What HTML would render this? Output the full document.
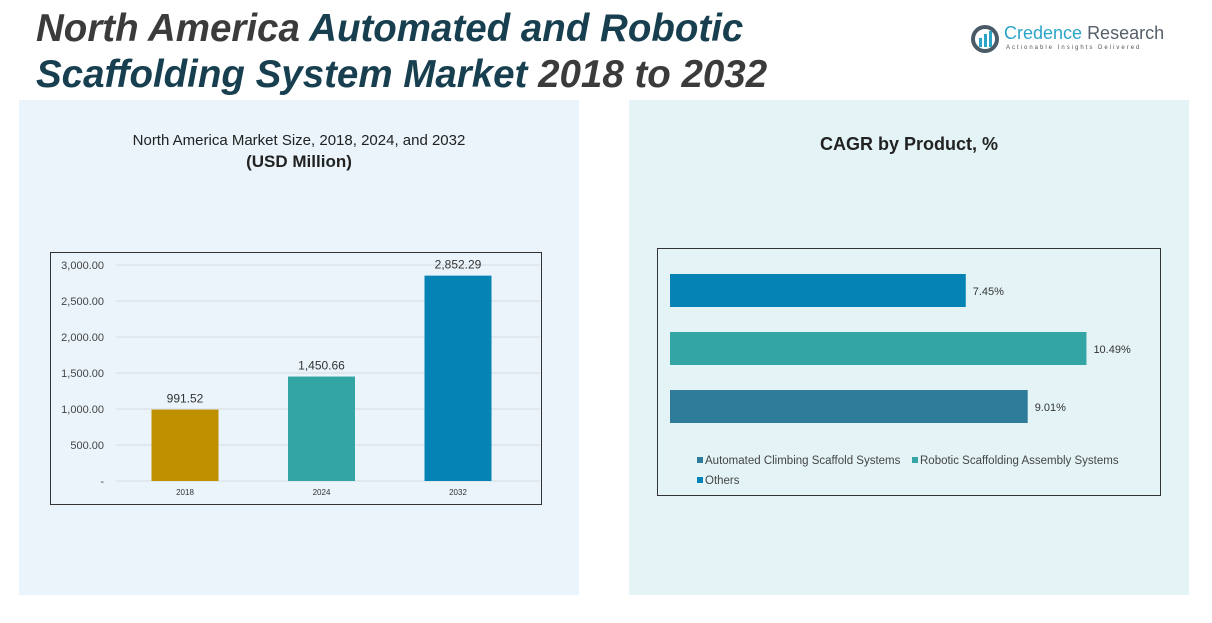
<!DOCTYPE html>
<html><head><meta charset="utf-8"><style>
body{margin:0;width:1212px;height:623px;background:#fff;position:relative;overflow:hidden;font-family:"Liberation Sans",sans-serif}
.t{position:absolute;left:36px;font-size:38.5px;font-weight:bold;font-style:italic;white-space:nowrap;color:#173f4f;letter-spacing:0px}
.g{color:#3b3b3b}
.p{position:absolute;top:100px;height:495px;width:560px}
</style></head><body>
<div class="t" style="top:7px"><span class="g">North America</span> Automated and Robotic</div>
<div class="t" style="top:53px">Scaffolding System Market <span class="g">2018 to 2032</span></div>
<div style="position:absolute;left:970px;top:22px;width:200px;height:34px">
<svg width="30" height="30" style="position:absolute;left:0;top:2px"><circle cx="15" cy="15" r="12" fill="none" stroke="#4a5a66" stroke-width="4"/><rect x="9" y="14" width="3" height="9" fill="#2aa5c8"/><rect x="14" y="10" width="3" height="13" fill="#2aa5c8"/><rect x="19" y="7" width="3" height="16" fill="#2aa5c8"/></svg>
<div style="position:absolute;left:34px;top:1px;font-size:18px;color:#2aa5c8;white-space:nowrap">Credence <span style="color:#55606a">Research</span></div>
<div style="position:absolute;left:36px;top:23px;font-size:6px;letter-spacing:2px;color:#555;white-space:nowrap">Actionable Insights Delivered</div>
</div>
<div class="p" style="left:19px;background:#eaf4fa"></div>
<div class="p" style="left:629px;background:#e4f4f6"></div>
<div style="position:absolute;left:19px;width:560px;top:132px;text-align:center;font-size:15px;color:#222">North America Market Size, 2018, 2024, and 2032<br><b style="font-size:17px;line-height:26px">(USD Million)</b></div>
<div style="position:absolute;left:629px;width:560px;top:134px;text-align:center;font-size:18px;font-weight:bold;color:#222">CAGR by Product, %</div>
<svg id="c1" style="position:absolute;left:0;top:0" width="1212" height="623"></svg>
<script>
const years=["2018","2024","2032"];
const sizes=[991.52,1450.66,2852.29];
const sizeLabels=["991.52","1,450.66","2,852.29"];
const yTicks=[0,500,1000,1500,2000,2500,3000];
const yTickLabels=["-","500.00","1,000.00","1,500.00","2,000.00","2,500.00","3,000.00"];
const products=["Others","Robotic Scaffolding Assembly Systems","Automated Climbing Scaffold Systems"];
const cagr=[7.45,10.49,9.01];
const cagrLabels=["7.45%","10.49%","9.01%"];
const NS="http://www.w3.org/2000/svg";
const svg=document.getElementById('c1');
function mk(t,a,p){const e=document.createElementNS(NS,t);for(const k in a)e.setAttribute(k,a[k]);(p||svg).appendChild(e);return e;}
let f=mk('rect',{x:50.5,y:252.5,width:491,height:252,fill:'none',stroke:'#333'});


const y=v=>481-v*216/3000;
const bx=i=>185+i*136.5;
yTicks.forEach((t,i)=>{
 let l=mk('line',{x1:116,x2:540,y1:y(t),y2:y(t),stroke:'#d6dde2'});
 
 
 let tx=mk('text',{x:104,y:y(t)+4,'text-anchor':'end','font-size':11,fill:'#444'});tx.textContent=yTickLabels[i];
 
 
});
const cols=["#bf8f00","#33a5a5","#0583b5"];
sizes.forEach((v,i)=>{
 let r=mk('rect',{x:bx(i)-33.5,y:y(v),width:67,height:y(0)-y(v),fill:cols[i]});
 
 
 let t=mk('text',{x:bx(i),y:y(v)-7,'text-anchor':'middle','font-size':12,fill:'#333'});t.textContent=sizeLabels[i];
 
 
 let xl=mk('text',{x:bx(i),y:495,'text-anchor':'middle','font-size':8,fill:'#333'});xl.textContent=years[i];
 
 
});
let f2=mk('rect',{x:657.5,y:248.5,width:503,height:247,fill:'none',stroke:'#333'});


const hx=v=>670+v*39.7;
const hy=i=>274+i*58;
const hcols=["#0583b5","#33a5a5","#2e7c9a"];
cagr.forEach((v,i)=>{
 let r=mk('rect',{x:670,y:hy(i),width:hx(v)-670,height:33,fill:hcols[i]});
 
 
 let t=mk('text',{x:hx(v)+7,y:hy(i)+21,'font-size':11,fill:'#333'});t.textContent=cagrLabels[i];
 
 
});
const leg=[[697,464,2],[912,464,1],[697,484,0]];
leg.forEach(([lx,ly,k])=>{
 let g=mk('g',{});
 
 
 mk('rect',{x:lx,y:ly-7,width:6,height:6,fill:hcols[k]},g);
 let t=mk('text',{x:lx+8,y:ly,'font-size':11.5,fill:'#444'},g);t.textContent=products[k];
});
</script>
</body></html>
